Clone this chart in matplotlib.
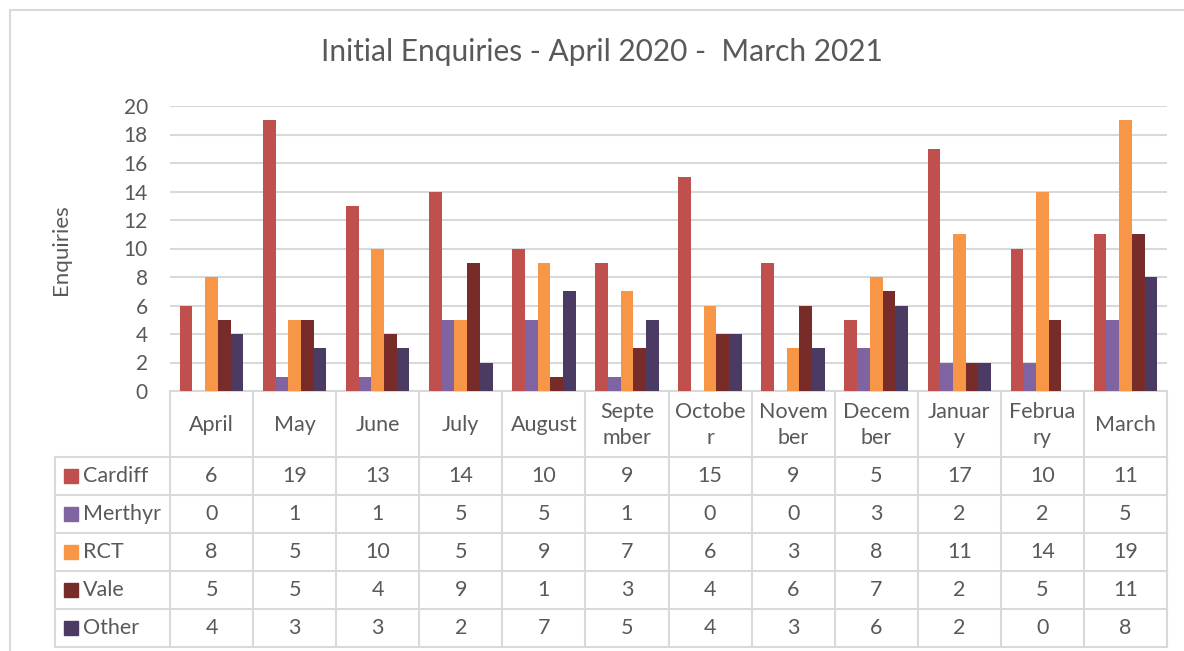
import matplotlib
matplotlib.use('Agg')
import matplotlib.pyplot as plt
import numpy as np
from matplotlib.patches import Rectangle

plt.rcParams['font.family'] = ['Lato', 'DejaVu Sans']

months = ['April', 'May', 'June', 'July', 'August', 'September', 'October',
          'November', 'December', 'January', 'February', 'March']
month_labels = ['April', 'May', 'June', 'July', 'August', 'Septe\nmber', 'Octobe\nr',
                'Novem\nber', 'Decem\nber', 'Januar\ny', 'Februa\nry', 'March']
series = ['Cardiff', 'Merthyr', 'RCT', 'Vale', 'Other']
cardiff = [6, 19, 13, 14, 10, 9, 15, 9, 5, 17, 10, 11]
merthyr = [0, 1, 1, 5, 5, 1, 0, 0, 3, 2, 2, 5]
rct = [8, 5, 10, 5, 9, 7, 6, 3, 8, 11, 14, 19]
vale = [5, 5, 4, 9, 1, 3, 4, 6, 7, 2, 5, 11]
other = [4, 3, 3, 2, 7, 5, 4, 3, 6, 2, 0, 8]
values = [cardiff, merthyr, rct, vale, other]
colors = ['#C0504D', '#8064A2', '#F79646', '#772C2A', '#4B3A62']

W, H = 1184, 651
txt = '#595959'
grid = '#D9D9D9'
fs = 15.5

fig = plt.figure(figsize=(W / 100, H / 100), dpi=100)

# pixel overlay for frame and data table
ov = fig.add_axes([0, 0, 1, 1])
ov.set_xlim(0, W)
ov.set_ylim(H, 0)
ov.axis('off')
ov.plot([10, 10, W + 5], [H + 5, 10, 10], color=grid, lw=1.5)

px_l, px_r, px_b, px_t = 170, 1167, 391, 106
ax = fig.add_axes([px_l / W, 1 - px_b / H, (px_r - px_l) / W, (px_b - px_t) / H])
x = np.arange(len(months))
bw = 0.153
for i, (name, vals, c) in enumerate(zip(series, values, colors)):
    ax.bar(x + (i - 2) * bw, vals, bw, color=c, label=name, zorder=3)
ax.set_xlim(-0.5, len(months) - 0.5)
ax.set_ylim(0, 20)
ax.set_yticks(range(0, 21, 2))
ax.yaxis.grid(True, color=grid, lw=1.5, zorder=0)
ax.set_xticks([])
for s in ['top', 'right', 'left']:
    ax.spines[s].set_visible(False)
ax.spines['bottom'].set_color(grid)
ax.spines['bottom'].set_linewidth(1.5)
ax.tick_params(axis='y', length=0, labelsize=15, labelcolor=txt, pad=16)
ov.text(61, 250, 'Enquiries', rotation=90, ha='center', va='center',
        fontsize=16, color=txt)
ov.text(602, 52, 'Initial Enquiries - April 2020 -  March 2021',
        ha='center', va='center', fontsize=21.5, color=txt)

# data table
col_w = (px_r - px_l) / len(months)
head_b = 457
row_h = 38
n_rows = len(series)
bottom = head_b + n_rows * row_h
leg_l = 55
lw = 1.5
for j in range(len(months) + 1):
    xx = px_l + j * col_w
    ov.plot([xx, xx], [px_b, bottom], color=grid, lw=lw)
ov.plot([leg_l, leg_l], [head_b, bottom], color=grid, lw=lw)
for r in range(n_rows + 1):
    yy = head_b + r * row_h
    ov.plot([leg_l, px_r], [yy, yy], color=grid, lw=lw)
for j, lab in enumerate(month_labels):
    ov.text(px_l + (j + 0.5) * col_w, (px_b + head_b) / 2 + 1, lab, ha='center',
            va='center', fontsize=fs, color=txt, linespacing=1.4)
for r, (name, vals, c) in enumerate(zip(series, values, colors)):
    yc = head_b + (r + 0.5) * row_h
    ov.add_patch(Rectangle((64, yc - 7), 14, 14, color=c))
    ov.text(83, yc, name, ha='left', va='center', fontsize=fs, color=txt)
    for j, v in enumerate(vals):
        ov.text(px_l + (j + 0.5) * col_w, yc, str(v), ha='center', va='center',
                fontsize=fs, color=txt)

fig.savefig('out.png', dpi=100)
